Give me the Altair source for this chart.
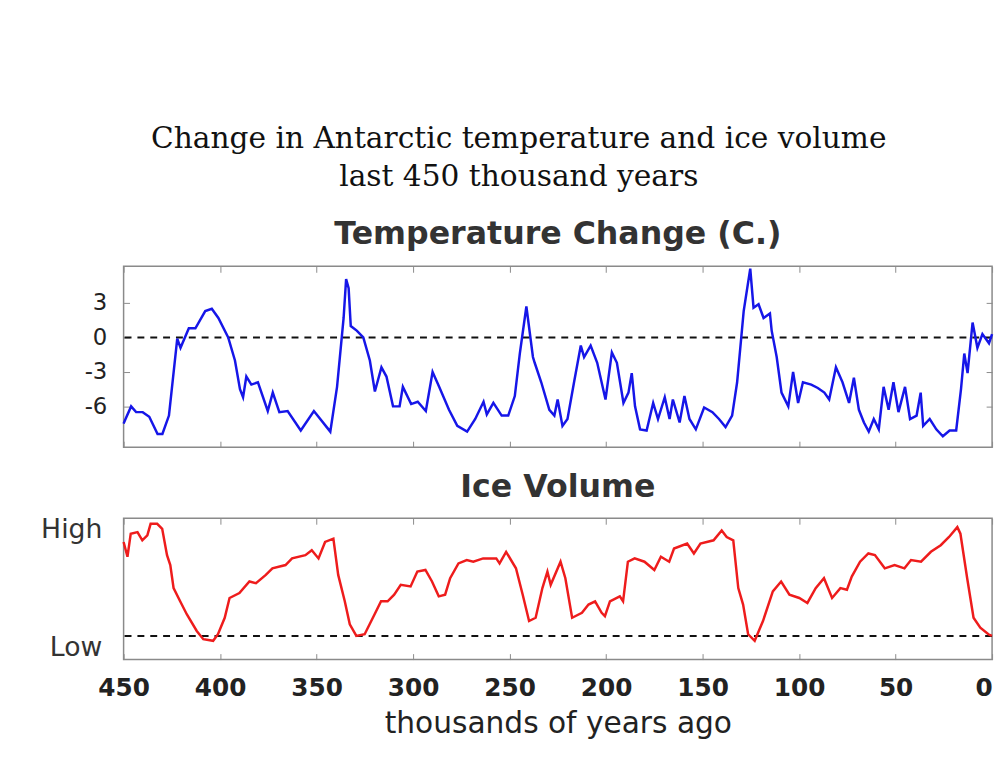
import altair as alt
import pandas as pd

# ---------------- data ----------------
temp_years = [450, 449, 446.1, 443.5, 440.1, 436.7, 432.4, 429.9, 426.5, 422.2,
              420.5, 416.2, 412.8, 407.7, 404.3, 400.9, 395.8, 392.3, 389.7, 388.1,
              386.4, 383.8, 380.4, 375.3, 372.7, 369.3, 365.0, 358.2, 351.4, 342.9,
              339.4, 336.0, 334.7, 333.4, 332.3, 329.2, 325.8, 322.4, 319.8, 316.4,
              313.8, 310.4, 307.0, 305.3, 301.0, 297.6, 293.4, 289.9, 286.5, 281.4,
              277.1, 272.0, 267.8, 263.5, 261.8, 258.4, 254.1, 250.7, 247.3, 244.7,
              241.3, 237.9,
              237.0, 233.6, 229.4, 226.8, 225.1, 222.6, 220.0, 216.6, 213.1, 211.4,
              208.0, 204.6, 200.3, 197.0, 194.4, 191.0, 188.4, 186.7, 185.0, 182.4,
              179.0, 175.6, 173.1, 169.6, 167.1, 165.4, 161.9, 159.4, 156.8, 153.5,
              149.2, 144.9, 141.5, 138.1, 134.7, 132.1, 128.7, 125.3, 123.6, 121.0,
              118.4, 115.1, 114.2, 111.6, 109.1, 105.6, 103.1, 100.5, 98.0, 93.7,
              90.3, 86.9, 84.4, 80.9, 77.5, 74.1, 71.6, 69.0, 66.4, 63.9,
              61.3, 58.7, 56.2, 53.6, 51.1, 48.5, 45.1, 42.5, 39.1, 37.0,
              35.7, 32.3, 28.9, 25.5, 22.0, 18.6, 16.1, 14.4, 12.7, 10.1,
              7.6, 5.0, 1.6, 0]
temp_values = [-7.5, -7.1, -6.0, -6.5, -6.5, -6.9, -8.4, -8.4, -6.8, -0.1,
               -0.9, 0.8, 0.8, 2.3, 2.5, 1.7, 0.0, -2.0, -4.5, -5.2,
               -3.4, -4.1, -3.9, -6.4, -4.8, -6.5, -6.4, -8.1, -6.4, -8.2,
               -4.3, 1.7, 5.1, 4.3, 1.0, 0.6, 0.0, -2.0, -4.7, -2.6,
               -3.4, -6.0, -6.0, -4.3, -5.8, -5.6, -6.4, -3.0, -4.3, -6.3,
               -7.7, -8.2, -7.1, -5.6, -6.7, -5.7, -6.8, -6.8, -5.1, -1.4,
               2.7, -1.7,
               -2.2, -3.9, -6.3, -6.8, -5.4, -7.7, -7.1, -3.9, -0.7, -1.7,
               -0.7, -2.2, -5.4, -1.3, -2.2, -5.7, -4.8, -3.1, -6.0, -8.0,
               -8.1, -5.7, -7.1, -5.2, -7.1, -5.4, -7.4, -5.1, -7.1, -8.0,
               -6.1, -6.5, -7.1, -7.8, -6.8, -3.9, 2.3, 6.0, 2.6, 2.9,
               1.7, 2.1, 0.6, -1.7, -4.8, -6.0, -3.0, -5.7, -3.9, -4.1,
               -4.4, -4.8, -5.4, -2.6, -3.9, -5.7, -3.5, -6.3, -7.4, -8.2,
               -7.1, -8.0, -4.3, -6.3, -3.9, -6.5, -4.3, -7.1, -6.8, -4.8,
               -7.7, -7.1, -8.0, -8.6, -8.1, -8.1, -4.5, -1.4, -3.1, 1.3,
               -0.9, 0.3, -0.5, 0.3]

ice_years = [450, 448.0, 446.3, 442.8, 440.3, 437.7, 436.0, 432.6, 430.0, 427.5,
             425.8, 424.1, 420.7, 417.2, 412.1, 408.7, 403.6, 401.1, 397.6, 395.1,
             390.0, 384.8, 381.4, 376.3, 372.9, 366.1, 362.7, 355.8, 352.5, 349.0,
             345.6, 341.3, 338.8, 335.4, 332.8, 329.4, 325.1, 320.0, 316.6, 313.2,
             309.8, 306.4, 301.3, 297.8, 293.6, 290.2, 286.7, 283.4, 280.8, 276.5,
             272.2, 268.8, 263.7, 256.9, 255.2, 251.8, 246.7, 243.2, 239.9, 236.5,
             233.0, 230.4, 228.7, 223.6, 221.1, 217.6, 212.5, 209.1, 205.7, 202.3,
             200.6, 198.0, 192.9, 191.2, 188.7, 185.2, 180.1, 175.0, 171.6, 167.3,
             164.8, 158.0, 154.5, 151.1, 144.3, 140.1, 137.5, 134.1, 131.5, 129.0,
             126.4, 123.0, 118.7, 113.6, 109.3, 105.0, 99.9, 95.7, 91.4, 87.1,
             82.9, 78.6, 75.2, 72.7, 68.4, 64.1, 60.7, 55.6, 50.5, 45.4,
             42.0, 36.8, 31.7, 26.6, 22.3, 18.0, 16.4, 12.9, 9.6, 6.1,
             1.9, 0.1]
ice_values = [0.899, 0.773, 0.969, 0.983, 0.913, 0.955, 1.053, 1.053, 1.011, 0.787,
              0.703, 0.507, 0.395, 0.283, 0.143, 0.073, 0.059, 0.115, 0.255, 0.423,
              0.465, 0.563, 0.549, 0.619, 0.675, 0.703, 0.759, 0.787, 0.829, 0.759,
              0.899, 0.927, 0.619, 0.395, 0.199, 0.101, 0.115, 0.283, 0.395, 0.395,
              0.451, 0.535, 0.521, 0.647, 0.661, 0.563, 0.437, 0.451, 0.591, 0.717,
              0.745, 0.731, 0.759, 0.759, 0.717, 0.815, 0.675, 0.451, 0.227, 0.255,
              0.507, 0.647, 0.535, 0.731, 0.591, 0.255, 0.297, 0.367, 0.395, 0.297,
              0.269, 0.395, 0.437, 0.395, 0.731, 0.759, 0.731, 0.661, 0.773, 0.731,
              0.843, 0.885, 0.801, 0.885, 0.913, 0.997, 0.941, 0.913, 0.507, 0.367,
              0.115, 0.059, 0.227, 0.479, 0.563, 0.451, 0.423, 0.381, 0.507, 0.591,
              0.423, 0.507, 0.493, 0.605, 0.731, 0.801, 0.787, 0.675, 0.703, 0.675,
              0.745, 0.731, 0.815, 0.871, 0.941, 1.025, 0.969, 0.591, 0.255, 0.171,
              0.115, 0.101]

x_ticks = [450, 400, 350, 300, 250, 200, 150, 100, 50, 0]
temp_ticks = [3, 0, -3, -6]
ice_ticks = [0, 1]
temp_ref_level = [0]
ice_ref_level = [0.1]

main_title = ["Change in Antarctic temperature and ice volume", "last 450 thousand years"]
temp_title = "Temperature Change (C.)"
ice_title = "Ice Volume"
x_title = "thousands of years ago"

# ---------------- styling ----------------
SANS = "DejaVu Sans"
FRAME = "#8a8a8a"
INWARD = alt.ExprRef(expr="-6")

temp_df = pd.DataFrame({"year": temp_years, "temp": temp_values})
ice_df = pd.DataFrame({"year": ice_years, "ice": ice_values})

xs = alt.Scale(domain=[450, 0], nice=False, zero=False)
ty = alt.Scale(domain=[-9.55, 6.2], nice=False, zero=False)
iy = alt.Scale(domain=[-0.1, 1.1], nice=False, zero=False)


def tick_axis(orient, values):
    return alt.Axis(orient=orient, values=values, labels=False, title=None,
                    domain=False, grid=False, tickSize=INWARD,
                    tickColor=FRAME, tickWidth=1, minExtent=0, maxExtent=0,
                    offset=0)


# ---- temperature panel ----
temp_line = alt.Chart(temp_df).mark_line(color="#1616e8", strokeWidth=2.5).encode(
    x=alt.X("year:Q", scale=xs, axis=tick_axis("bottom", x_ticks)),
    y=alt.Y("temp:Q", scale=ty,
            axis=alt.Axis(orient="left", values=temp_ticks, title=None, domain=False,
                          grid=False, tickSize=INWARD, tickColor=FRAME,
                          labelExpr="(datum.value < 0 ? '-' : '') + abs(datum.value)",
                          labelFont=SANS, labelFontSize=23, labelColor="#222",
                          labelPadding=23)),
)
temp_ghost = alt.Chart(temp_df).mark_line(opacity=0).encode(
    x=alt.X("year:Q", scale=xs, axis=tick_axis("top", x_ticks)),
    y=alt.Y("temp:Q", scale=ty, axis=tick_axis("right", temp_ticks)),
)
temp_zero = alt.Chart(pd.DataFrame({"level": temp_ref_level})).mark_rule(
    color="#111", strokeDash=[7, 6], strokeWidth=2
).encode(y=alt.Y("level:Q", scale=ty, axis=None))

temp_chart = alt.layer(temp_zero, temp_line, temp_ghost).resolve_axis(
    x="independent", y="independent"
).properties(
    width=879, height=183,
    title=alt.TitleParams(temp_title, font=SANS, fontSize=32, fontWeight="bold",
                          color="#333", anchor="middle", offset=13),
)

# ---- ice panel ----
ice_line = alt.Chart(ice_df).mark_line(color="#ee1c1c", strokeWidth=2.5).encode(
    x=alt.X("year:Q", scale=xs,
            axis=alt.Axis(orient="bottom", values=x_ticks, title=x_title, domain=False,
                          grid=False, tickSize=INWARD, tickColor=FRAME,
                          labelFont=SANS, labelFontSize=25, labelFontWeight="bold",
                          labelColor="#222", labelPadding=22,
                          labelAlign={"condition": {"test": "datum.value == 0", "value": "right"},
                                      "value": "center"},
                          titleFont=SANS, titleFontSize=30, titleFontWeight="normal",
                          titleColor="#222", titlePadding=9)),
    y=alt.Y("ice:Q", scale=iy,
            axis=alt.Axis(orient="left", values=ice_ticks, title=None, domain=False,
                          grid=False, ticks=False,
                          labelExpr="datum.value == 1 ? 'High' : 'Low'",
                          labelFont=SANS, labelFontSize=27, labelColor="#333",
                          labelPadding=22)),
)
ice_ghost = alt.Chart(ice_df).mark_line(opacity=0).encode(
    x=alt.X("year:Q", scale=xs, axis=tick_axis("top", x_ticks)),
    y=alt.Y("ice:Q", scale=iy, axis=None),
)
ice_low = alt.Chart(pd.DataFrame({"level": ice_ref_level})).mark_rule(
    color="#111", strokeDash=[7, 6], strokeWidth=2
).encode(y=alt.Y("level:Q", scale=iy, axis=None))

ice_chart = alt.layer(ice_low, ice_line, ice_ghost).resolve_axis(
    x="independent", y="independent"
).properties(
    width=879, height=143,
    title=alt.TitleParams(ice_title, font=SANS, fontSize=32, fontWeight="bold",
                          color="#333", anchor="middle", offset=12),
)

chart = alt.vconcat(temp_chart, ice_chart, spacing=22).properties(
    title=alt.TitleParams(main_title, font="DejaVu Serif", fontSize=30,
                          fontWeight="normal", color="#111", anchor="middle",
                          lineHeight=38, offset=26),
    padding={"top": 113, "left": 32, "right": 0, "bottom": 0},
    background="white",
).configure_view(stroke=FRAME, strokeWidth=1.5)

chart.save("out.html", embed_options={"renderer": "svg", "actions": False})
